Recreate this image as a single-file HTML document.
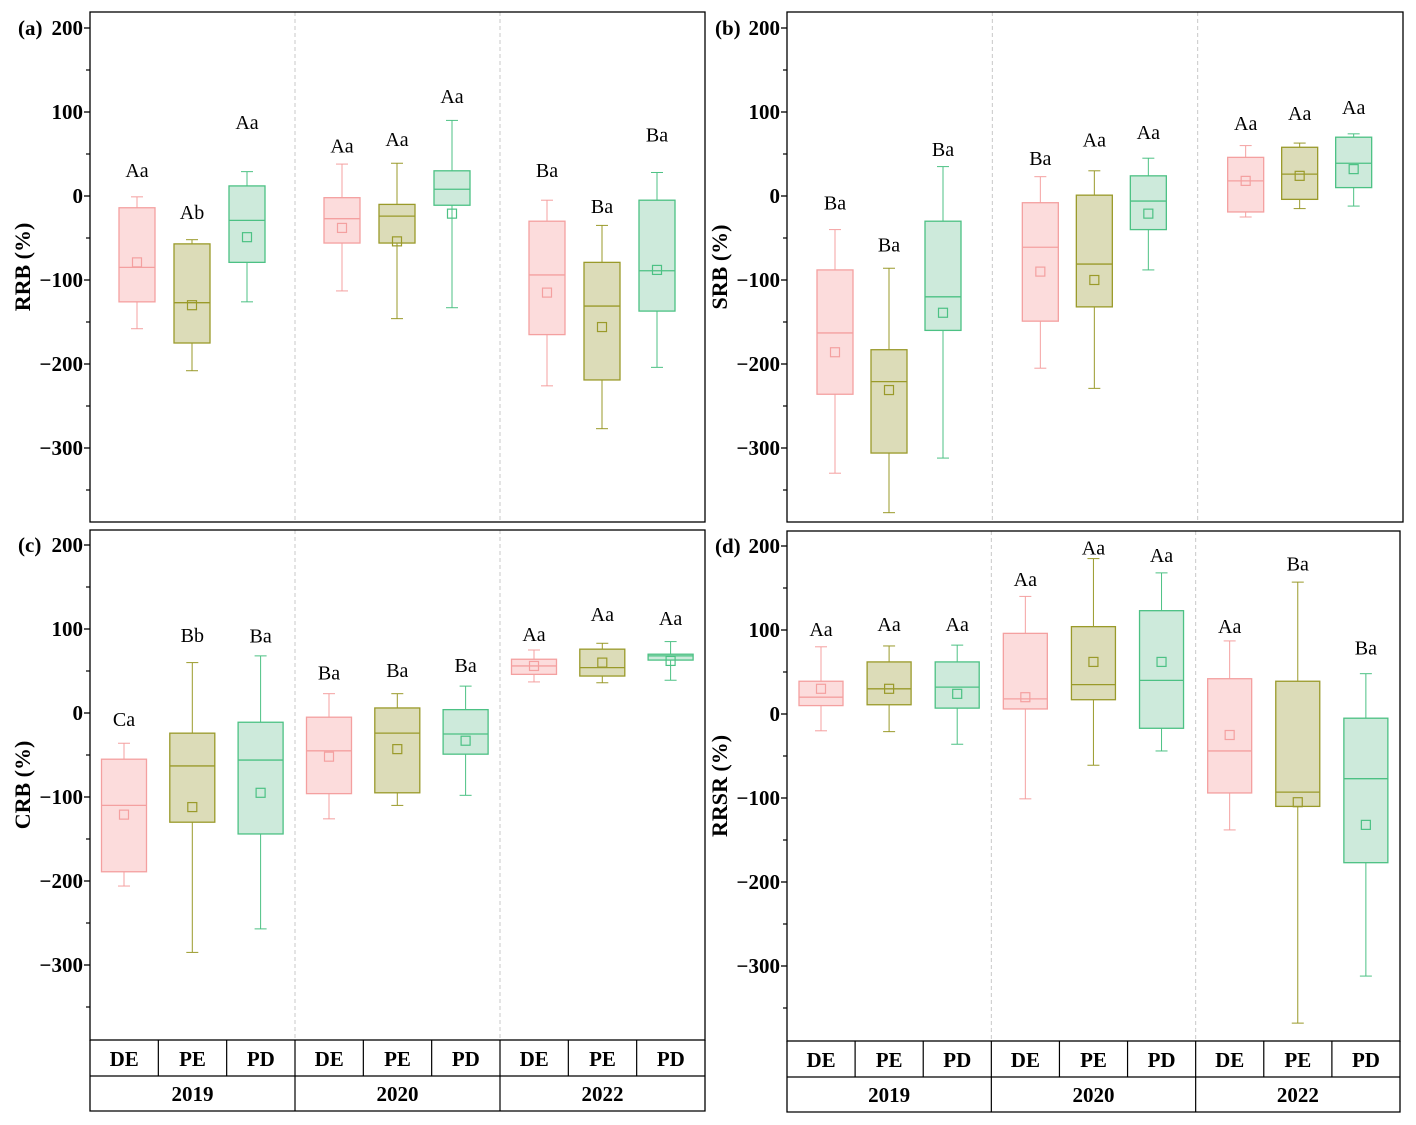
<!DOCTYPE html>
<html><head><meta charset="utf-8"><style>
html,body{margin:0;padding:0;background:#fff}
svg{display:block}
text{font-family:"Liberation Serif","Times New Roman",serif}
</style></head><body>
<svg id="chart" width="1416" height="1125" viewBox="0 0 1416 1125"></svg>
<script>
// Data: [low whisker, q1, median, q3, high whisker, mean]
const categories = ["DE","PE","PD","DE","PE","PD","DE","PE","PD"];
const years = ["2019","2020","2022"];
const rrbStats = [[-158,-126,-85,-14,-1,-79],[-208,-175,-127,-57,-52,-130],[-126,-79,-29,12,29,-49],
 [-113,-56,-27,-2,38,-38],[-146,-56,-24,-10,39,-54],[-133,-11,8,30,90,-21],
 [-226,-165,-94,-30,-5,-115],[-277,-219,-131,-79,-35,-156],[-204,-137,-89,-5,28,-88]];
const rrbLabels = ["Aa","Ab","Aa","Aa","Aa","Aa","Ba","Ba","Ba"];
const rrbLabelAt = [31,-19,88,60,68,119,31,-12,73];
const srbStats = [[-330,-236,-163,-88,-40,-186],[-377,-306,-221,-183,-86,-231],[-312,-160,-120,-30,35,-139],
 [-205,-149,-61,-8,23,-90],[-229,-132,-81,1,30,-100],[-88,-40,-6,24,45,-21],
 [-25,-19,18,46,60,18],[-15,-4,26,58,63,24],[-12,10,39,70,74,32]];
const srbLabels = ["Ba","Ba","Ba","Ba","Aa","Aa","Aa","Aa","Aa"];
const srbLabelAt = [-8,-58,56,45,67,76,87,99,106];
const crbStats = [[-206,-189,-110,-55,-36,-121],[-285,-130,-63,-24,60,-112],[-257,-144,-56,-11,68,-95],
 [-126,-96,-45,-5,23,-52],[-110,-95,-24,6,23,-43],[-98,-49,-25,4,32,-33],
 [37,46,56,64,75,56],[36,44,54,76,83,60],[39,63,68,70,85,62]];
const crbLabels = ["Ca","Bb","Ba","Ba","Ba","Ba","Aa","Aa","Aa"];
const crbLabelAt = [-7,93,92,48,51,57,94,118,113];
const rrsrStats = [[-20,10,20,39,80,30],[-21,11,30,62,81,30],[-36,7,32,62,82,24],
 [-101,6,18,96,140,20],[-61,17,35,104,185,62],[-44,-17,40,123,168,62],
 [-138,-94,-44,42,87,-25],[-368,-110,-93,39,157,-105],[-312,-177,-77,-5,48,-132]];
const rrsrLabels = ["Aa","Aa","Aa","Aa","Aa","Aa","Aa","Ba","Ba"];
const rrsrLabelAt = [101,107,107,161,198,189,105,179,79];
const yTicks = [200,100,0,-100,-200,-300];

const stroke=["#f4a0a0","#9a9a2a","#4cc184"], fill=["#fcdcdc","#dcdcb8","#cdeadb"];
const NS="http://www.w3.org/2000/svg", svg=document.getElementById("chart");
function mk(tag,attrs,parent){const e=document.createElementNS(NS,tag);for(const k in attrs)e.setAttribute(k,attrs[k]);if(tag==="text")e.setAttribute("font-family","Liberation Serif, serif");(parent||svg).appendChild(e);return e;}

const panels=[
 {id:"a",x0:90,x1:705,y0:12,y1:522,zero:196,stats:rrbStats,labels:rrbLabels,labelAt:rrbLabelAt,title:"RRB (%)",sp:55,off:47,bw:36,table:false},
 {id:"b",x0:787,x1:1403,y0:12,y1:522,zero:196,stats:srbStats,labels:srbLabels,labelAt:srbLabelAt,title:"SRB (%)",sp:54,off:48,bw:36,table:false},
 {id:"c",x0:90,x1:705,y0:530,y1:1040,zero:713,stats:crbStats,labels:crbLabels,labelAt:crbLabelAt,title:"CRB (%)",sp:68.3,off:34,bw:45,table:true},
 {id:"d",x0:787,x1:1400,y0:531,y1:1041,zero:714,stats:rrsrStats,labels:rrsrLabels,labelAt:rrsrLabelAt,title:"RRSR (%)",sp:68.1,off:34,bw:44,table:true}
];
panels.forEach(p=>{
  const g=mk("g",{});
  
  
  const Y=v=>p.zero-v*0.84;
  const gw=(p.x1-p.x0)/3;
  const X=i=>p.x0+Math.floor(i/3)*gw+p.off+(i%3)*p.sp;
  for(let k=1;k<3;k++){const l=mk("line",{x1:p.x0+k*gw,x2:p.x0+k*gw,y1:p.y0,y2:p.y1,stroke:"#c8c8c8","stroke-dasharray":"4,3"},g);
    }
  const fr=mk("rect",{x:p.x0,y:p.y0,width:p.x1-p.x0,height:p.y1-p.y0,fill:"none",stroke:"#000","stroke-width":1.3},g);
  
  yTicks.forEach(t=>{const y=Y(t);
    mk("line",{x1:p.x0-6,x2:p.x0,y1:y,y2:y,stroke:"#000","stroke-width":1.3},g);
    const tx=mk("text",{x:p.x0-7,y:y+7,"text-anchor":"end","font-size":21,"font-weight":"bold"},g);
    tx.textContent=(t<0?"\u2212"+(-t):String(t));
    });
  for(let t=150;t>-400;t-=100){const y=Y(t);if(y<p.y1)mk("line",{x1:p.x0-4,x2:p.x0,y1:y,y2:y,stroke:"#000","stroke-width":1.2},g);}
  const pl=mk("text",{x:p.x0-72,y:Y(200)+7,"font-size":21,"font-weight":"bold"},g);pl.textContent="("+p.id+")";
  
  const yc=(p.y0+p.y1)/2;
  const at=mk("text",{x:0,y:0,transform:`translate(${p.x0-60},${yc}) rotate(-90)`,"text-anchor":"middle","font-size":22,"font-weight":"bold"},g);
  at.textContent=p.title;
  p.stats.forEach((s,i)=>{const c=i%3,x=X(i),hw=p.bw/2;
    const bg=mk("g",{},g);
    mk("line",{x1:x,x2:x,y1:Y(s[4]),y2:Y(s[3]),stroke:stroke[c]},bg);
    mk("line",{x1:x,x2:x,y1:Y(s[1]),y2:Y(s[0]),stroke:stroke[c]},bg);
    mk("line",{x1:x-6,x2:x+6,y1:Y(s[4]),y2:Y(s[4]),stroke:stroke[c]},bg);
    mk("line",{x1:x-6,x2:x+6,y1:Y(s[0]),y2:Y(s[0]),stroke:stroke[c]},bg);
    mk("rect",{x:x-hw,y:Y(s[3]),width:p.bw,height:Y(s[1])-Y(s[3]),fill:fill[c],stroke:stroke[c],"stroke-width":1.3},bg);
    mk("line",{x1:x-hw,x2:x+hw,y1:Y(s[2]),y2:Y(s[2]),stroke:stroke[c],"stroke-width":1.3},bg);
    mk("rect",{x:x-4.5,y:Y(s[5])-4.5,width:9,height:9,fill:"none",stroke:stroke[c],"stroke-width":1.2},bg);
    const lb=mk("text",{x:x,y:Y(p.labelAt[i])+7,"text-anchor":"middle","font-size":20},g);lb.textContent=p.labels[i];
    
  });
  if(p.table){
    const t1=p.y1+36,t2=p.y1+71,cw=(p.x1-p.x0)/9;
    mk("path",{d:`M${p.x0},${p.y1}V${t2}H${p.x1}V${p.y1}M${p.x0},${t1}H${p.x1}`,fill:"none",stroke:"#000","stroke-width":1.3},g);
    for(let k=1;k<9;k++){const x=p.x0+k*cw;mk("line",{x1:x,x2:x,y1:p.y1,y2:k%3?t1:t2,stroke:"#000","stroke-width":1.2},g);}
    categories.forEach((cn,i)=>{const t=mk("text",{x:p.x0+(i+0.5)*cw,y:p.y1+26,"text-anchor":"middle","font-size":21,"font-weight":"bold"},g);t.textContent=cn;
      });
    years.forEach((yr,i)=>{const t=mk("text",{x:p.x0+(i+0.5)*gw,y:p.y1+61,"text-anchor":"middle","font-size":21,"font-weight":"bold"},g);t.textContent=yr;
      });
  }
});
</script>
</body></html>
